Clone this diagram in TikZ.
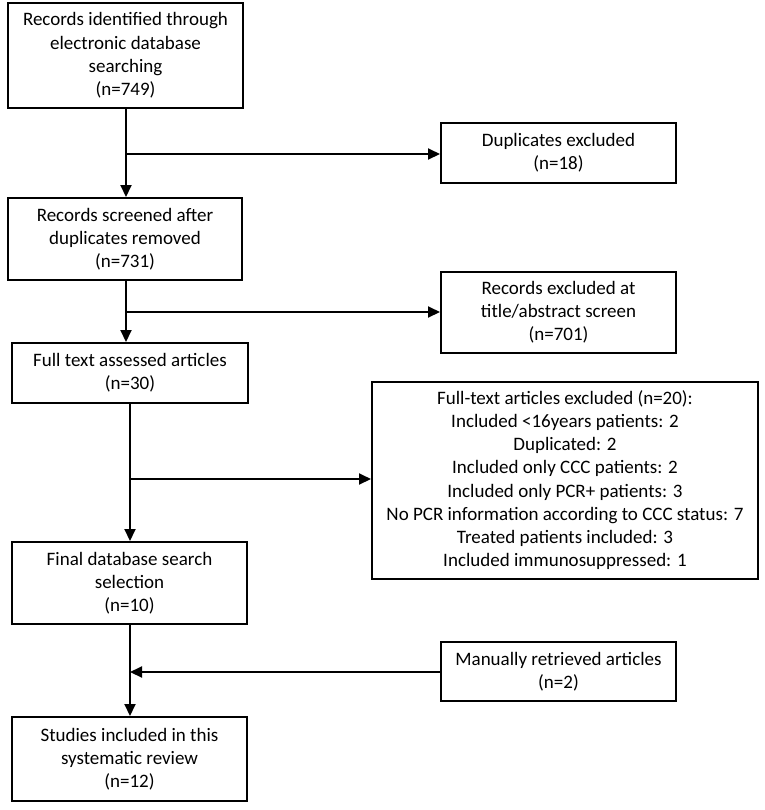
\documentclass[tikz,border=0pt]{standalone}
\usepackage{fontspec}
\setmainfont{Carlito}
\usetikzlibrary{arrows.meta}
\begin{document}
\begin{tikzpicture}[x=0.5pt,y=-0.5pt,
  box/.style={draw=black,line width=1pt,align=center,inner sep=0pt,
    font=\fontsize{9.5}{11.6}\selectfont,text=black},
  arr/.style={line width=1pt,-{Triangle[length=6pt,width=5.5pt]}},
  ln/.style={line width=1pt}]
\useasboundingbox (0,0) rectangle (765,810);
\node[box,minimum width=235pt*0.5,minimum height=105pt*0.5] (b1) at (125.5,55.5)
  {Records identified through\\ electronic database\\ searching\\ (n=749)};
\node[box,minimum width=117.5pt,minimum height=30pt] (dup) at (558.5,153)
  {Duplicates excluded\\ (n=18)};
\node[box,minimum width=117pt,minimum height=41pt] (b2) at (125,239)
  {Records screened after\\ duplicates removed\\ (n=731)};
\node[box,minimum width=117.5pt,minimum height=40.5pt] (rex) at (558.5,312.5)
  {Records excluded at\\ title/abstract screen\\ (n=701)};
\node[box,minimum width=118pt,minimum height=30pt] (b3) at (130,373)
  {Full text assessed articles\\ (n=30)};
\node[box,minimum width=193pt,minimum height=98.5pt] (fex) at (565,480)
  {Full-text articles excluded (n=20):\\ Included <16years patients: 2\\ Duplicated: 2\\
   Included only CCC patients: 2\\ Included only PCR+ patients: 3\\
   No PCR information according to CCC status: 7\\ Treated patients included: 3\\
   Included immunosuppressed: 1};
\node[box,minimum width=117.5pt,minimum height=41pt] (b4) at (129.5,583)
  {Final database search\\ selection\\ (n=10)};
\node[box,minimum width=117.5pt,minimum height=29.5pt] (man) at (558.5,671.5)
  {Manually retrieved articles\\ (n=2)};
\node[box,minimum width=117.5pt,minimum height=42pt] (b5) at (129.5,759)
  {Studies included in this\\ systematic review\\ (n=12)};
\coordinate (j1) at (126,154);
\coordinate (j2) at (126,312);
\coordinate (j3) at (130,479);
\coordinate (j4) at (130,672);
\draw[arr] (b1.south -| j1) -- (b2.north -| j1);
\draw[arr] (j1) -- (dup.west |- j1);
\draw[arr] (b2.south -| j2) -- (b3.north -| j2);
\draw[arr] (j2) -- (rex.west |- j2);
\draw[arr] (b3.south -| j3) -- (b4.north -| j3);
\draw[arr] (j3) -- (fex.west |- j3);
\draw[arr] (b4.south -| j4) -- (b5.north -| j4);
\draw[arr] (man.west |- j4) -- (j4);
\end{tikzpicture}
\end{document}
